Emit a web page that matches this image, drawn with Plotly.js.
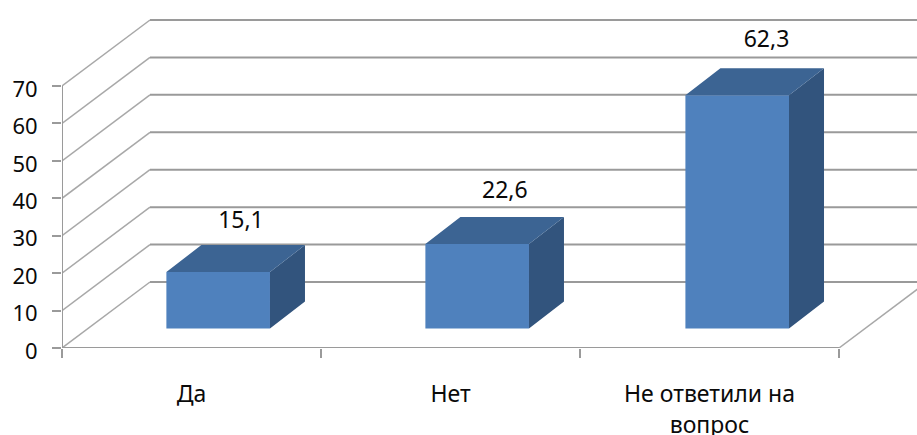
<!DOCTYPE html>
<html><head><meta charset="utf-8">
<script src="https://cdn.plot.ly/plotly-3.0.1.min.js"></script>
<style>html,body{margin:0;padding:0;background:#fff}</style></head>
<body><div id="chart" style="width:917px;height:435px"></div>
<script>
const categories = ['Да', 'Нет', 'Не ответили на'];
const categoriesLine2 = ['', '', 'вопрос'];
const values = [15.1, 22.6, 62.3];
const valueLabels = ['15,1', '22,6', '62,3'];
const yTicks = [0, 10, 20, 30, 40, 50, 60, 70];
const xBounds = [0, 1, 2, 3];
const barCenters = [0.603, 1.603, 2.607];
const labelX = [0.691, 1.71, 2.72];
const labelRise = [13.4, 13.8, 14.5];

const FONT = '"Noto Sans", sans-serif';
const TXT = '#0a0a0a';
const BARW = 0.4, BASE = 5.2;
const XMAX = 855 / 259, YMAX = 348 / 3.743;
const WALL_X = 88 / 259, WALL_Y = 66 / 3.743;
const DEPTH_X = 35 / 259, DEPTH_Y = 27 / 3.743;
const mids = xBounds.slice(0, -1).map(v => v + 0.5);

const topX = [], topY = [], sideX = [], sideY = [];
values.forEach((v, i) => {
  const l = barCenters[i] - BARW / 2, r = barCenters[i] + BARW / 2, t = BASE + v;
  topX.push(l, r, r + DEPTH_X, l + DEPTH_X, l, null);
  topY.push(t, t, t + DEPTH_Y, t + DEPTH_Y, t, null);
  sideX.push(r, r + DEPTH_X, r + DEPTH_X, r, r, null);
  sideY.push(BASE, BASE + DEPTH_Y, t + DEPTH_Y, t, BASE, null);
});

const traces = [
  {type: 'bar', x: barCenters, y: values, base: BASE, width: BARW,
   marker: {color: '#4f81bd', line: {width: 0}}, hoverinfo: 'skip', showlegend: false},
  {type: 'scatter', mode: 'lines', x: sideX, y: sideY, fill: 'toself', fillcolor: '#32547d',
   line: {width: 0, color: '#32547d'}, hoverinfo: 'skip', showlegend: false},
  {type: 'scatter', mode: 'lines', x: topX, y: topY, fill: 'toself', fillcolor: '#3c6493',
   line: {width: 0, color: '#3c6493'}, hoverinfo: 'skip', showlegend: false},
  {type: 'scatter', mode: 'text', x: labelX, y: values.map((v, i) => BASE + v + labelRise[i]),
   text: valueLabels, textposition: 'middle center', textfont: {family: FONT, size: 23, color: TXT},
   cliponaxis: false, hoverinfo: 'skip', showlegend: false},
  {type: 'scatter', mode: 'markers', x: [0], y: [0], xaxis: 'x2', marker: {opacity: 0}, hoverinfo: 'skip', showlegend: false},
  {type: 'scatter', mode: 'markers', x: [0], y: [0], xaxis: 'x3', marker: {opacity: 0}, hoverinfo: 'skip', showlegend: false}
];

const GRID = '#9a9a9a', DIAG = '#a8a8a8';
const shapes = [];
const seg = (x0, y0, x1, y1, color, width) => shapes.push({type: 'line', layer: 'below', xref: 'x', yref: 'y',
  x0, y0, x1, y1, line: {color, width}});
yTicks.forEach(v => {
  seg(0, v, WALL_X, v + WALL_Y, DIAG, 1.5);
  seg(WALL_X, v + WALL_Y, XMAX, v + WALL_Y, GRID, 2);
});
seg(0, 0, xBounds[xBounds.length - 1], 0, GRID, 2);
seg(0, 0, 0, yTicks[yTicks.length - 1], GRID, 2);
seg(xBounds[xBounds.length - 1], 0, xBounds[xBounds.length - 1] + WALL_X, WALL_Y, DIAG, 1.5);

const layout = {
  width: 917, height: 435, paper_bgcolor: '#fff', plot_bgcolor: '#fff',
  margin: {l: 62, r: 0, t: 0, b: 87}, showlegend: false, barmode: 'overlay', shapes,
  xaxis: {range: [0, XMAX], showgrid: false, zeroline: false, showline: false,
          tickmode: 'array', tickvals: xBounds, ticktext: xBounds.map(() => ''),
          ticks: 'outside', ticklen: 9, tickwidth: 2, tickcolor: GRID},
  xaxis2: {overlaying: 'x', anchor: 'y', side: 'bottom', range: [0, XMAX], showgrid: false, zeroline: false, showline: false,
           tickmode: 'array', tickvals: mids, ticktext: categories,
           ticks: 'outside', ticklen: 25, tickwidth: 0, tickcolor: 'rgba(0,0,0,0)',
           tickfont: {family: FONT, size: 23, color: TXT}},
  xaxis3: {overlaying: 'x', anchor: 'y', side: 'bottom', range: [0, XMAX], showgrid: false, zeroline: false, showline: false,
           tickmode: 'array', tickvals: mids, ticktext: categoriesLine2,
           ticks: 'outside', ticklen: 56, tickwidth: 0, tickcolor: 'rgba(0,0,0,0)',
           tickfont: {family: FONT, size: 23, color: TXT}},
  yaxis: {range: [0, YMAX], showgrid: false, zeroline: false, showline: false,
          tickmode: 'array', tickvals: yTicks, ticktext: yTicks.map(String),
          ticks: 'outside', ticklen: 9, tickwidth: 2, tickcolor: GRID, ticklabelstandoff: 10, ticklabelshift: 3,
          tickfont: {family: FONT, size: 22, color: TXT}}
};
Plotly.newPlot('chart', traces, layout, {displayModeBar: false, staticPlot: true});
</script></body></html>
